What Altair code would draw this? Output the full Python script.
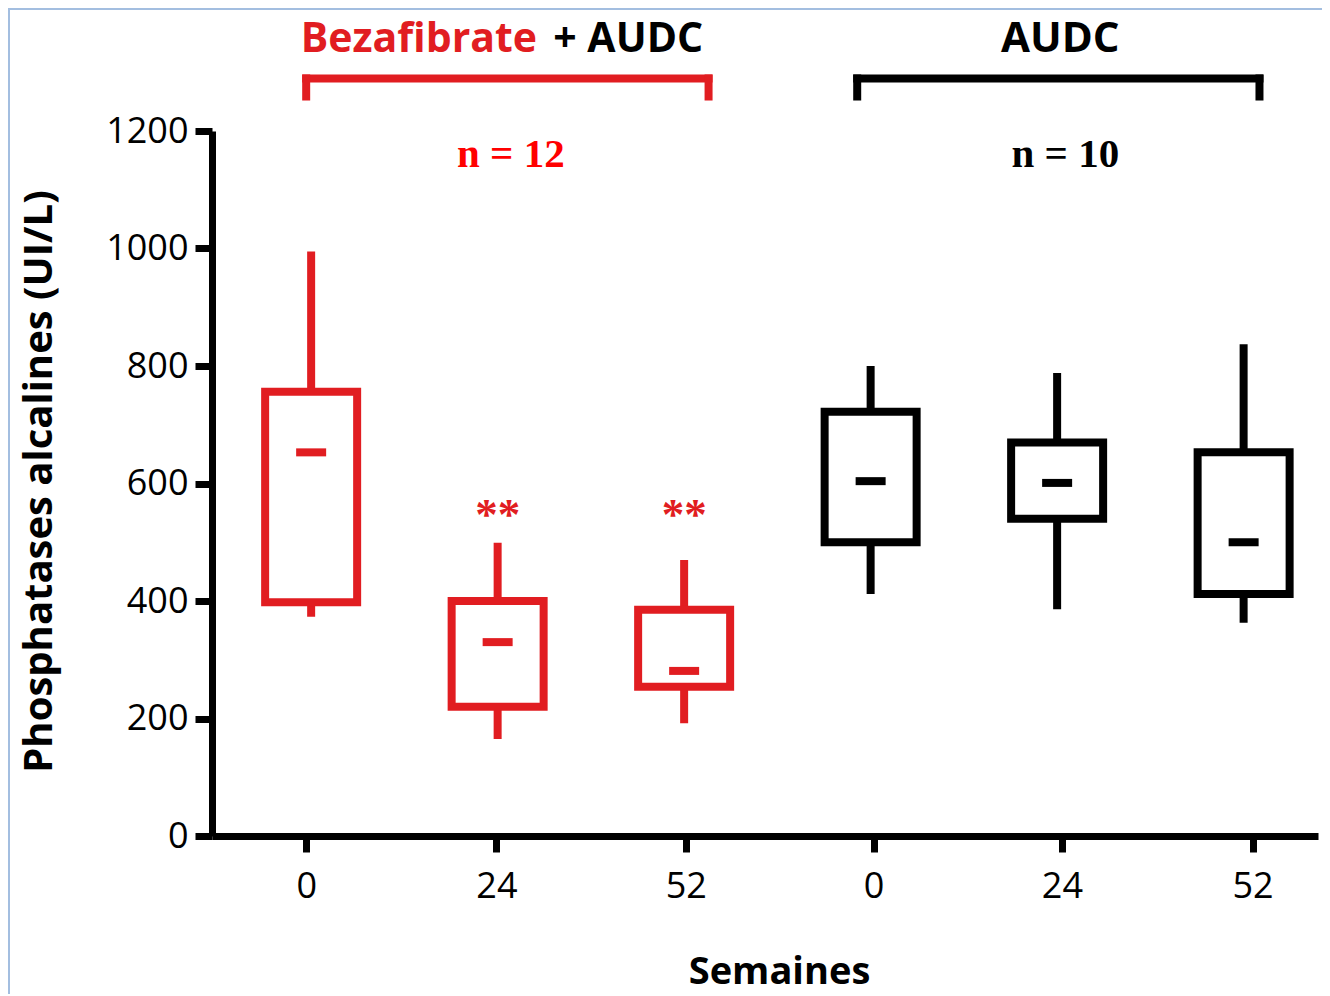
import altair as alt
import pandas as pd

# ---- data ----
groups = ["Bezafibrate + AUDC"] * 3 + ["AUDC"] * 3
weeks = ["0", "24", "52", "0", "24", "52"]
wmin = [373, 165, 192, 412, 386, 363]
q1 = [398, 220, 254, 500, 540, 412]
med = [653, 330, 281, 604, 601, 500]
q3 = [756, 400, 385, 722, 670, 653]
wmax = [995, 499, 470, 800, 788, 837]
sig = ["", "**", "**", "", "", ""]
box_colors = ["#e11d21"] * 3 + ["#000000"] * 3
n_labels = ["n = 12", "n = 10"]
n_colors = ["#ff0000", "#000000"]
y_ticks = [0, 200, 400, 600, 800, 1000, 1200]

RED = "#e11d21"
FRAME = "#a3bee0"

df = pd.DataFrame({
    "pos": list(range(6)),
    "group": groups,
    "week": weeks,
    "wmin": wmin, "q1": q1, "med": med, "q3": q3, "wmax": wmax,
    "sig": sig, "color": box_colors,
})

# axis tick placement (slightly wider spacing than boxes, as in the figure)
x_tick_vals = [-0.0266, 0.9936, 2.0085, 3.0159, 4.0255, 5.0478]
label_expr = "[" + ",".join("'" + w + "'" for w in weeks) + "][round(datum.value)]"

xscale = alt.Scale(domain=[-0.5048, 5.372], nice=False, zero=False)
yscale = alt.Scale(domain=[0, 1200], nice=False, zero=False)

xaxis = alt.Axis(
    values=x_tick_vals, labelExpr=label_expr, title="Semaines",
    titleFont="Open Sans", titleFontSize=38, titleFontWeight="bold", titleColor="#000",
    titleX=567, titleY=147, titleBaseline="alphabetic", titleAlign="center",
    labelFont="Open Sans", labelFontSize=36, labelColor="#000", labelPadding=17,
    labelFlush=False, labelOverlap=False, labelAngle=0,
    tickSize=16, tickWidth=7, tickColor="#000",
    domainWidth=7, domainColor="#000", grid=False,
)
yaxis = alt.Axis(
    values=y_ticks, format="d", title="Phosphatases alcalines (UI/L)",
    titleFont="Open Sans", titleFontSize=40, titleFontWeight="bold", titleColor="#000",
    titleX=-161, titleY=350, titleBaseline="alphabetic", titleAlign="center", titleAngle=270,
    labelFont="Open Sans", labelFontSize=36, labelColor="#000", labelPadding=7,
    tickSize=17, tickWidth=7, tickColor="#000",
    domainWidth=7, domainColor="#000", grid=False,
)

base = alt.Chart(df)
X = alt.X("pos:Q", scale=xscale, axis=xaxis)
Y = alt.Y("wmin:Q", scale=yscale, axis=yaxis)

whisk = base.mark_rule(strokeWidth=8, strokeCap="butt", opacity=1).encode(
    x=X, y=Y, y2="wmax:Q", color=alt.Color("color:N", scale=None)
)
box = base.mark_bar(width=92, fill="white", strokeWidth=8, strokeJoin="miter", opacity=1).encode(
    x=alt.X("pos:Q"), y=alt.Y("q1:Q"), y2="q3:Q", stroke=alt.Stroke("color:N", scale=None)
)
median = base.mark_tick(orient="horizontal", size=30, thickness=8, opacity=1).encode(
    x=alt.X("pos:Q"), y=alt.Y("med:Q"), color=alt.Color("color:N", scale=None)
)
stars = base.mark_text(
    font="Liberation Serif", fontWeight="bold", fontSize=45, baseline="alphabetic",
    align="center", color=RED,
).encode(x=alt.X("pos:Q"), y=alt.datum(523), text="sig:N")

# ---- group headers ----
HEAD_Y = 1334.5
head_red = alt.Chart(pd.DataFrame({"t": ["Bezafibrate"]})).mark_text(
    font="Open Sans", fontWeight="bold", fontSize=41, color=RED,
    align="right", baseline="alphabetic",
).encode(x=alt.datum(1.2115), y=alt.datum(HEAD_Y), text="t:N")
head_plus = alt.Chart(pd.DataFrame({"t": ["+ AUDC"]})).mark_text(
    font="Open Sans", fontWeight="bold", fontSize=41, color="#000",
    align="center", baseline="alphabetic",
).encode(x=alt.datum(1.70), y=alt.datum(HEAD_Y), text="t:N")
head_audc = alt.Chart(pd.DataFrame({"t": ["AUDC"]})).mark_text(
    font="Open Sans", fontWeight="bold", fontSize=42, color="#000",
    align="center", baseline="alphabetic",
).encode(x=alt.datum(4.017), y=alt.datum(HEAD_Y), text="t:N")

brk = pd.DataFrame({"x1": [-0.0266, 2.928], "x2": [2.131, 5.085], "color": [RED, "#000000"]})
brk_h = alt.Chart(brk).mark_rule(strokeWidth=8, strokeCap="square").encode(
    x="x1:Q", x2="x2:Q", y=alt.datum(1289.4), color=alt.Color("color:N", scale=None)
)
brk_l = alt.Chart(brk).mark_rule(strokeWidth=8, strokeCap="square").encode(
    x="x1:Q", y=alt.datum(1289.4), y2=alt.datum(1258.7), color=alt.Color("color:N", scale=None)
)
brk_r = alt.Chart(brk).mark_rule(strokeWidth=8, strokeCap="square").encode(
    x="x2:Q", y=alt.datum(1289.4), y2=alt.datum(1258.7), color=alt.Color("color:N", scale=None)
)

ndf = pd.DataFrame({"t": n_labels, "x": [1.071, 4.044], "color": n_colors})
ntext = alt.Chart(ndf).mark_text(
    font="Liberation Serif", fontWeight="bold", fontSize=41,
    align="center", baseline="alphabetic",
).encode(x="x:Q", y=alt.datum(1138.7), text="t:N", color=alt.Color("color:N", scale=None))

# light blue frame of the original figure
frame_l = alt.Chart(df).mark_rule(color=FRAME, strokeWidth=2).encode(
    x=alt.value(-203), y=alt.value(-123), y2=alt.value(870)
)
frame_t = alt.Chart(df).mark_rule(color=FRAME, strokeWidth=2).encode(
    x=alt.value(-204), x2=alt.value(1110), y=alt.value(-122)
)

chart = alt.layer(
    frame_l, frame_t, whisk, box, median, stars,
    head_red, head_plus, head_audc, brk_h, brk_l, brk_r, ntext,
).properties(
    width=1106, height=705,
    autosize=alt.AutoSizeParams(type="none"),
    padding={"left": 204, "top": 123, "right": 4, "bottom": 158},
    background="white",
).configure_view(strokeWidth=0)

chart.save("out.html", embed_options={"renderer": "svg", "actions": False})
